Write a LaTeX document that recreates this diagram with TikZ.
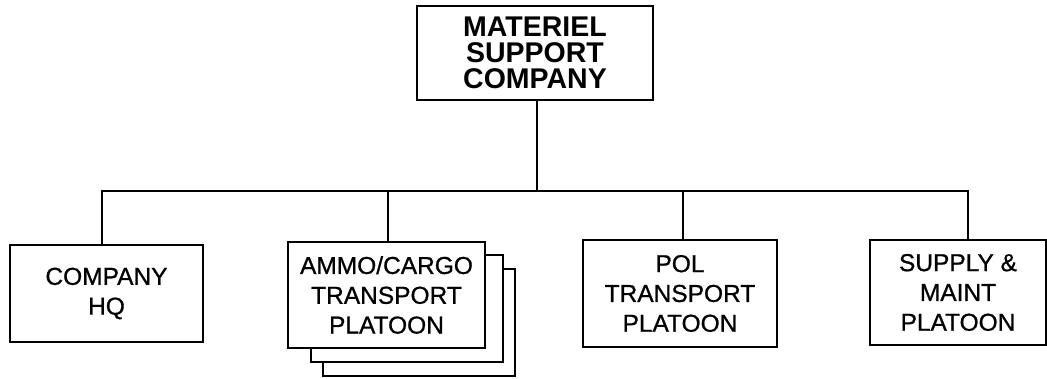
\documentclass[tikz,border=0pt]{standalone}
\usepackage{fontspec}
\setmainfont{Liberation Sans}
\newfontfamily\platoonfont{Liberation Sans}[FakeBold=0.8]

\begin{document}
\begin{tikzpicture}[
  x=1pt, y=-1pt,
  unit/.style={draw, line width=2pt, fill=white, inner sep=0pt, align=center,
    font=\platoonfont\fontsize{24.5}{29.8}\selectfont},
  hqunit/.style={unit, font=\fontsize{28.5}{26.3}\selectfont\bfseries},
  conn/.style={line width=2pt}
]
\useasboundingbox (0,0) rectangle (1047,378);

% Company
\node[hqunit, minimum width=236pt, minimum height=94pt] (msc) at (535, 53) {MATERIEL\\SUPPORT\\COMPANY};

% Platoons
\node[unit, minimum width=193pt, minimum height=97pt] (hq) at (106.5, 293.5) {COMPANY\\HQ};
\node[unit, minimum width=197pt, minimum height=106pt] (ammo) at (386.5, 295) {AMMO/CARGO\\TRANSPORT\\PLATOON};
\node[unit, minimum width=194pt, minimum height=107pt] (pol) at (680, 293.5) {POL\\TRANSPORT\\PLATOON};
\node[unit, minimum width=176pt, minimum height=105pt] (supply) at (958, 292.5) {SUPPLY \&\\MAINT\\PLATOON};

% Stacked copies behind the ammo platoon
\draw[conn] ([yshift=-14pt]ammo.north east) -- ++(17,0) -- ++(0,107) -- ++(-192,0) -- ++(0,-15);
\draw[conn] ([xshift=17pt, yshift=-28pt]ammo.north east) -- ++(12,0) -- ++(0,107) -- ++(-192,0) -- ++(0,-14);

% Connectors
\coordinate (bus) at (0, 191);
\draw[conn] ([xshift=2pt]msc.south) -- ([xshift=2pt]msc.south |- bus);
\draw[conn] ([xshift=-4.5pt]hq.north) |- ([xshift=10pt]supply.north |- bus) -- ([xshift=10pt]supply.north);
\draw[conn] ([xshift=1.5pt]ammo.north) -- ([xshift=1.5pt]ammo.north |- bus);
\draw[conn] ([xshift=3pt]pol.north) -- ([xshift=3pt]pol.north |- bus);
\end{tikzpicture}
\end{document}
